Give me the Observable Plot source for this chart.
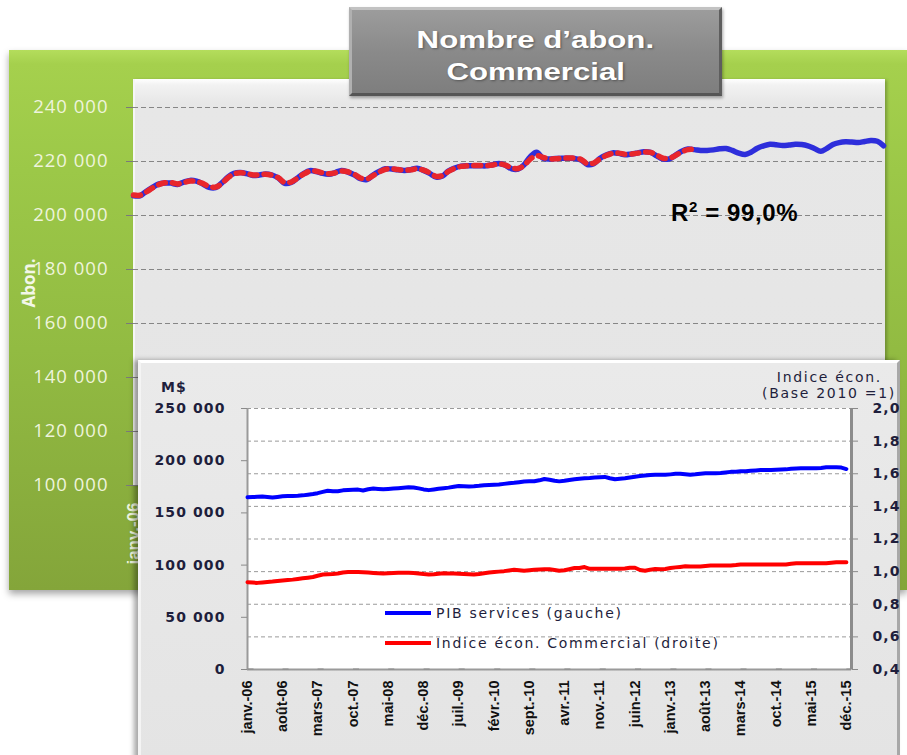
<!DOCTYPE html>
<html>
<head>
<meta charset="utf-8">
<script src="https://cdn.jsdelivr.net/npm/d3@7"></script>
<script src="https://cdn.jsdelivr.net/npm/@observablehq/plot@0.6"></script>
<style>
  html, body { margin: 0; padding: 0; }
  body { width: 907px; height: 755px; overflow: hidden; position: relative; background: #ffffff; font-family: "Liberation Sans", Arial, sans-serif; }
  .abs { position: absolute; }
  #green { left: 9px; top: 50px; width: 898px; height: 540px;
    background: linear-gradient(180deg, #b4dd5c 0px, #a5d04d 14px, #9cc848 120px, #92bb42 300px, #84a53a 540px);
    box-shadow: 0 4px 7px rgba(0,0,0,0.35); }
  #plotbg { left: 133px; top: 79px; width: 752px; height: 406px;
    background: linear-gradient(180deg, #ffffff 0px, #f2f2f2 6px, #e7e7e7 24px, #e5e5e5 100%);
    border-left: 2px solid #f6f6f6; box-sizing: border-box; box-shadow: 2px 1px 3px rgba(0,0,0,0.25); }
  #main { left: 0; top: 0; }
  #title { left: 349px; top: 7px; width: 373px; height: 89px; box-sizing: border-box;
    background: linear-gradient(180deg, #9c9c9c 0%, #8a8a8a 50%, #7e7e7e 100%);
    border: 3px solid; border-color: #c2c2c2 #5e5e5e #555555 #b0b0b0;
    box-shadow: 1px 2px 3px rgba(0,0,0,0.35);
    text-align: center; color: #ffffff; font-weight: bold; font-size: 24px; line-height: 32px; padding-top: 14px; }
  #title span { display: inline-block; transform: scaleX(1.3); text-shadow: 1px 1px 2px rgba(0,0,0,0.35); }
  #r2 { left: 671px; top: 201px; font-weight: bold; font-size: 24px; line-height: 24px; color: #000; letter-spacing: 0.6px; white-space: nowrap; }
  #r2 sup { font-size: 15px; vertical-align: 9px; line-height: 0; }
  #inset { left: 138px; top: 360px; width: 762px; height: 400px; box-sizing: border-box;
    background: linear-gradient(180deg, #eaeaea 0%, #e4e4e4 100%);
    border-top: 3px solid #ffffff; border-left: 3px solid #f4f4f4; border-right: 3px solid #a8a8a8;
    box-shadow: -4px 0 5px rgba(0,0,0,0.35); }
  #insetbg { left: 247px; top: 408px; width: 604px; height: 261px; background: #ffffff; }
  #insetplot { left: 138px; top: 360px; }
  .ilabel { position: absolute; font-family: "DejaVu Sans", Verdana, sans-serif; font-size: 14px; line-height: 16px; color: #1e1e3c; letter-spacing: 1.7px; white-space: nowrap; }
  .swatch { position: absolute; height: 4px; width: 46px; }
  #main [aria-label="y-axis tick label"] text { letter-spacing: 1px; }
  #insetplot [aria-label="y-axis tick label"] text { letter-spacing: 1.1px; }
</style>
</head>
<body>
<div id="green" class="abs"></div>
<div id="plotbg" class="abs"></div>
<div id="main" class="abs"></div>
<div id="title" class="abs"><span>Nombre d’abon.</span><br><span>Commercial</span></div>
<div id="r2" class="abs">R<sup>2</sup> = 99,0%</div>
<div id="inset" class="abs"></div>
<div id="insetbg" class="abs"></div>
<div id="insetplot" class="abs"></div>
<div class="ilabel" style="left:161px; top:379px; font-weight:bold; letter-spacing:1px;">M$</div>
<div class="ilabel" style="right:25px; top:370px; line-height:14px; text-align:right;">Indice écon.</div>
<div class="ilabel" style="right:11px; top:386px; line-height:14px; text-align:right;">(Base 2010 =1)</div>
<div class="swatch" style="left:385px; top:611px; background:#0000ff;"></div>
<div class="ilabel" style="left:436px; top:605px;">PIB services (gauche)</div>
<div class="swatch" style="left:385px; top:641px; background:#ff0000;"></div>
<div class="ilabel" style="left:436px; top:635px;">Indice écon. Commercial (droite)</div>
<script>
// ---------- DATA ----------
const xTickLabels = ["janv.-06","août-06","mars-07","oct.-07","mai-08","déc.-08","juil.-09","févr.-10","sept.-10","avr.-11","nov.-11","juin-12","janv.-13","août-13","mars-14","oct.-14","mai-15","déc.-15"];

// Nombre d'abonnés commerciaux (monthly, janv.-06 .. déc.-15)
const abonValues = [
207300,207300,208800,210300,211600,212000,212000,211500,212400,213000,212700,211700,
210400,210300,211900,214200,215600,215900,215500,214800,215000,215400,215000,213900,
211900,212200,213800,215500,216600,216300,215600,215300,215900,216700,216100,215100,
213600,213300,214900,216300,217300,217200,216900,216700,217000,217500,216700,215600,
214200,214600,216500,217600,218300,218400,218400,218400,218400,218800,219300,218600,
217300,217200,218700,221800,223400,221200,220900,221100,221200,221200,221100,220600,
218900,219200,221100,222400,223200,223000,222500,222800,223200,223600,223400,222100,
220900,221000,222300,223800,224600,224400,224100,224100,224300,224700,224800,224100,
223100,222600,223400,224900,225800,226400,226200,225900,226100,226400,226300,225800,
224800,223800,224800,226300,227000,227300,227200,227000,227400,227800,227500,225800];

// Valeurs ajustées du modèle (R² = 99,0 %)
const abonFit = [
207600,207500,208600,210100,211400,212100,212200,211700,212200,212800,212600,211900,
210700,210500,211700,213900,215400,215800,215600,215000,215100,215300,214900,214000,
212200,212400,213700,215300,216400,216400,215800,215500,215800,216500,216200,215300,
213900,213500,214700,216100,217100,217300,217000,216800,216900,217300,216800,215800,
214500,214800,216300,217500,218200,218400,218500,218500,218500,218700,219100,218700,
217600,217400,218500,220900,222200,221500,221000,221000,221200,221300,221200,220800,
219200,219400,220900,222200,223000,223100,222700,222800,223100,223500,223400,222400,
221200,221200,222200,223600,224400,224500];

// PIB services (M$, axe gauche)
const pibValues = [
165000,165200,165400,165600,165300,164700,165300,165900,166100,166300,166500,166800,
167400,168100,168900,170100,171200,170700,170700,171600,171900,172100,172300,171500,
172600,173300,173000,172700,173000,173400,173700,174100,174500,174400,173500,172500,
171800,172500,173200,173700,174200,175000,175800,175600,175400,175600,176000,176500,
176700,177000,177300,177800,178300,178800,179400,180100,180200,180300,181200,182500,
181800,180800,180200,180800,181600,182300,182800,183200,183500,183900,184200,184500,
183200,182200,182700,183200,183900,184700,185300,185800,186300,186500,186500,186500,
186900,187400,187600,187100,186500,187000,187600,188000,188000,188000,188200,188700,
189300,189500,189800,190000,190300,190700,191000,191100,191200,191300,191500,191700,
192300,192600,192700,192800,192800,192800,193100,193700,193700,193700,193400,192000];

// Indice économique Commercial (Base 2010 = 1, axe droit)
const indiceValues = [
0.935,0.933,0.931,0.934,0.937,0.939,0.942,0.945,0.948,0.951,0.955,0.959,
0.963,0.967,0.975,0.982,0.984,0.986,0.989,0.995,0.997,0.997,0.997,0.996,
0.994,0.992,0.990,0.988,0.990,0.992,0.993,0.993,0.993,0.992,0.989,0.985,
0.982,0.984,0.987,0.990,0.989,0.988,0.987,0.986,0.984,0.982,0.985,0.990,
0.994,0.997,1.000,1.003,1.007,1.011,1.008,1.005,1.008,1.011,1.013,1.014,
1.014,1.010,1.006,1.008,1.015,1.022,1.022,1.028,1.017,1.017,1.017,1.017,
1.017,1.017,1.017,1.019,1.024,1.024,1.010,1.005,1.012,1.016,1.014,1.016,
1.022,1.026,1.029,1.033,1.032,1.031,1.032,1.035,1.038,1.038,1.038,1.038,
1.038,1.040,1.043,1.044,1.044,1.044,1.044,1.044,1.044,1.044,1.044,1.044,
1.048,1.051,1.052,1.052,1.052,1.052,1.052,1.052,1.055,1.058,1.058,1.058];

const mainYTicks = [100000,120000,140000,160000,180000,200000,220000,240000];
const leftTicks = [0,50000,100000,150000,200000,250000];
const rightTicks = [0.4,0.6,0.8,1.0,1.2,1.4,1.6,1.8,2.0];

// ---------- BUILD ----------
const start = new Date(Date.UTC(2006, 0, 1));
const end = new Date(Date.UTC(2016, 0, 1));
const months = d3.utcMonth.range(start, end); // 120 months
const xTickDates = months.filter((d, i) => i % 7 === 0);
const labelByTime = new Map(xTickDates.map((d, i) => [+d, xTickLabels[i]]));
const fmtX = d => labelByTime.get(+d) ?? "";
const fmtSpace = d => d3.format(",")(d).replace(/,/g, " ");

const abonData = abonValues.map((v, i) => ({date: months[i], value: v}));
const fitData = abonFit.map((v, i) => ({date: months[i], value: v}));
const pibData = pibValues.map((v, i) => ({date: months[i], value: v}));
const indiceData = indiceValues.map((v, i) => ({date: months[i], value: v}));

const light = "#eef4dc";

const mainChart = Plot.plot({
  width: 907, height: 600,
  marginLeft: 133, marginRight: 24, marginTop: 80, marginBottom: 115,
  style: {background: "transparent", overflow: "visible"},
  x: {type: "utc", domain: [months[0], months[119]]},
  y: {domain: [100000, 250000]},
  marks: [
    Plot.ruleY(mainYTicks, {stroke: "#868686", strokeDasharray: "5,3", strokeWidth: 1}),
    Plot.axisY(mainYTicks, {anchor: "left", tickSize: 7, tickPadding: 18, tickFormat: fmtSpace,
      stroke: "#7a7a7a", fill: light, fontSize: 18.5, fontFamily: "Open Sans", label: null}),
    Plot.axisX(xTickDates, {anchor: "bottom", tickFormat: fmtX, rotate: -90, textAnchor: "end", lineAnchor: "middle",
      tickSize: 0, tickPadding: 17,
      fill: light, fontSize: 17, fontWeight: "bold", fontFamily: "Liberation Sans", label: null}),
    Plot.text(["Abon."], {frameAnchor: "left", dx: -104, rotate: -90, textAnchor: "middle", lineAnchor: "middle",
      fill: "#f3f7e8", fontSize: 17, fontWeight: "bold", fontFamily: "Open Sans"}),
    Plot.line(abonData, {x: "date", y: "value", stroke: "#2e2edb", strokeWidth: 5.5, curve: "catmull-rom"}),
    Plot.line(fitData, {x: "date", y: "value", stroke: "#e8262c", strokeWidth: 5.5, strokeDasharray: "7,7", curve: "catmull-rom"})
  ]
});
document.getElementById("main").append(mainChart);

// inset: right axis values mapped onto the left scale
const r2l = d3.scaleLinear([0.4, 2.0], [0, 250000]);
const gridVals = rightTicks.slice(1).map(r2l);
const navy = "#1e1e3c";

const inset = Plot.plot({
  width: 769, height: 395,
  marginLeft: 109, marginRight: 56, marginTop: 48, marginBottom: 86,
  style: {background: "transparent", overflow: "visible"},
  x: {type: "utc", domain: [start, end]},
  y: {domain: [0, 250000]},
  marks: [
    Plot.ruleY(gridVals, {stroke: "#9a9a9a", strokeDasharray: "4,3", strokeWidth: 1}),
    Plot.ruleY([0], {stroke: "#9a9a9a", strokeWidth: 2}),
    Plot.ruleX([start], {stroke: "#9a9a9a", strokeWidth: 2}),
    Plot.ruleX([end], {stroke: "#8c8c8c", strokeWidth: 3}),
    Plot.axisY(leftTicks, {anchor: "left", tickSize: 6, tickPadding: 16, tickFormat: fmtSpace,
      stroke: "#8a8a8a", fill: navy, fontSize: 14, fontWeight: "bold", fontFamily: "DejaVu Sans", label: null}),
    Plot.axisY(rightTicks.map(r2l), {anchor: "right", tickSize: 6, tickPadding: 15,
      tickFormat: d => d3.format(".1f")(r2l.invert(d)).replace(".", ","),
      stroke: "#8a8a8a", fill: navy, fontSize: 14, fontWeight: "bold", fontFamily: "DejaVu Sans", label: null}),
    Plot.axisX(xTickDates, {anchor: "bottom", tickFormat: fmtX, rotate: -90, textAnchor: "end", lineAnchor: "middle",
      tickSize: 6, tickPadding: 5,
      stroke: "#8a8a8a", fill: "#111111", fontSize: 14.5, fontWeight: "bold", fontFamily: "Liberation Sans", label: null}),
    Plot.line(pibData, {x: "date", y: "value", stroke: "#0000ff", strokeWidth: 4}),
    Plot.line(indiceData, {x: "date", y: d => r2l(d.value), stroke: "#ff0000", strokeWidth: 4})
  ]
});
document.getElementById("insetplot").append(inset);
</script>
</body>
</html>
